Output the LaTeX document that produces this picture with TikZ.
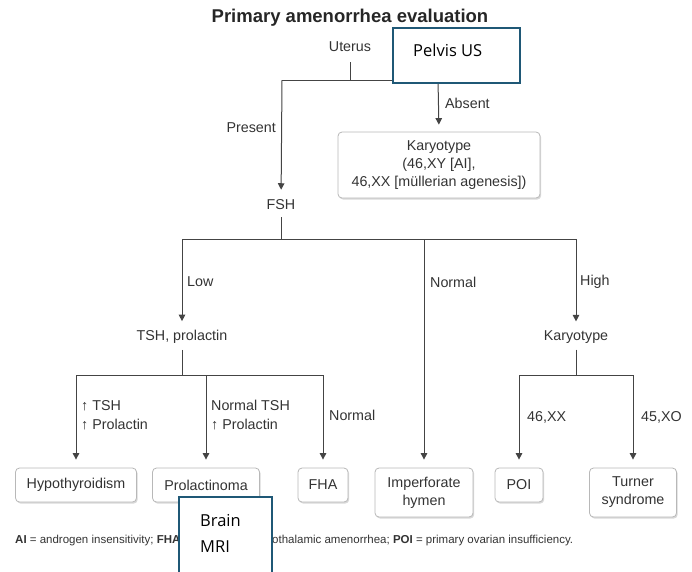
\documentclass[tikz,border=0pt]{standalone}
\usepackage{fontspec}
\setmainfont{Liberation Sans}
\newfontfamily\aptos{Open Sans}
\usetikzlibrary{shadows,arrows.meta}
\definecolor{ln}{HTML}{444444}
\definecolor{tx}{HTML}{333333}
\definecolor{bx}{HTML}{B8B8B8}
\definecolor{callc}{RGB}{31,88,118}
\begin{document}
\begin{tikzpicture}[x=1pt,y=-1pt,
  every node/.style={text=tx, font=\fontsize{14.3}{18}\selectfont, inner sep=0pt},
  lbl/.style={anchor=west},
  res/.style={draw=bx, line width=0.8pt, rounded corners=4pt, fill=white, align=center,
    drop shadow={shadow xshift=1.2pt, shadow yshift=-1.6pt, opacity=0.3}},
  conn/.style={draw=ln, line width=1pt},
  arr/.style={conn, -{Triangle[length=6.5pt,width=6.5pt]}},
  callout/.style={draw=callc, line width=1.8pt, fill=white},
  calltext/.style={font=\aptos\fontsize{16.5}{26}\selectfont, text=black, align=left, anchor=west},
  foottext/.style={anchor=west, font=\fontsize{11.5}{13}\selectfont}
]
\useasboundingbox (0,0) rectangle (692,571);

% title
\node[font=\bfseries\fontsize{18.5}{22}\selectfont, text=black!85] (title) at (350,18) {Primary amenorrhea evaluation};

% level 1
\node (uterus) at (350,47) {Uterus};
\coordinate (j1) at (350,80);
\coordinate (j1l) at (282,80);
\coordinate (j1r) at (438,80);
\node (fsh) at (281,205) {FSH};
\node[res, minimum width=202pt, minimum height=66pt] (kar1) at (439,165)
  {Karyotype\\(46,XY [AI],\\46,XX [müllerian agenesis])};
\draw[conn, shorten <=10pt] (uterus) -- (j1);
\draw[conn] (j1l) -- (j1r);
\draw[arr, shorten >=10pt] (j1l) -- (fsh);
\draw[arr, shorten >=7pt] (j1r) -- (kar1.north);
\node[anchor=east] (lpres) at (276,128) {Present};
\node[lbl] (labs) at (445,103) {Absent};

% level 2
\coordinate (j2) at (281,239);
\coordinate (j2l) at (182,239);
\coordinate (j2m) at (424,239);
\coordinate (j2r) at (576,239);
\node (tsh) at (182,337) {TSH, prolactin};
\node (kar2) at (576,337) {Karyotype};
\node[res, minimum width=98pt, minimum height=49pt] (imp) at (424,492.5) {Imperforate\\hymen};
\draw[conn, shorten <=7pt] (fsh) -- (j2);
\draw[conn] (j2l) -- (j2r);
\draw[arr, shorten >=9pt] (j2l) -- (tsh);
\draw[arr, shorten >=8pt] (j2m) -- (imp.north);
\draw[arr, shorten >=9pt] (j2r) -- (kar2);
\node[lbl] (llow) at (187,282) {Low};
\node[lbl] (lnorm) at (430,282) {Normal};
\node[lbl] (lhigh) at (580,282) {High};

% level 3 left
\coordinate (j3) at (182,375);
\node[res, minimum width=121pt, minimum height=34pt] (hypo) at (76,485) {Hypothyroidism};
\node[res, minimum width=107pt, minimum height=34pt] (prol) at (206,485) {Prolactinoma};
\node[res, minimum width=50pt, minimum height=34pt] (fha) at (323,485) {FHA};
\draw[conn, shorten <=6pt] (tsh) -- (j3);
\draw[conn] (hypo.north |- j3) -- (fha.north |- j3);
\draw[arr, shorten >=8pt] (hypo.north |- j3) -- (hypo.north);
\draw[arr, shorten >=8pt] (prol.north |- j3) -- (prol.north);
\draw[arr, shorten >=8pt] (fha.north |- j3) -- (fha.north);
\node[lbl, align=left, font=\fontsize{14.3}{19}\selectfont] (ltsh) at (81,415) {↑ TSH\\↑ Prolactin};
\node[lbl, align=left, font=\fontsize{14.3}{19}\selectfont] (lnt) at (211,415) {Normal TSH\\↑ Prolactin};
\node[lbl] (lnorm2) at (329,415) {Normal};

% level 3 right
\coordinate (j4) at (576,375);
\node[res, minimum width=48pt, minimum height=34pt] (poi) at (519,485) {POI};
\node[res, minimum width=87pt, minimum height=49pt] (turner) at (633,492.5) {Turner\\syndrome};
\draw[conn, shorten <=6pt] (kar2) -- (j4);
\draw[conn] (poi.north |- j4) -- (turner.north |- j4);
\draw[arr, shorten >=8pt] (poi.north |- j4) -- (poi.north);
\draw[arr, shorten >=8pt] (turner.north |- j4) -- (turner.north);
\node[lbl] (l46) at (527,417) {46,XX};
\node[lbl] (l45) at (641,417) {45,XO};

% footnote (visible parts around the Brain MRI callout)
\node[foottext] (foota) at (15,541) {\textbf{AI} = androgen insensitivity; \textbf{FHA}};
\node[foottext] (footb) at (272,541) {othalamic amenorrhea; \textbf{POI} = primary ovarian insufficiency.};

% callouts
\node[callout, minimum width=127pt, minimum height=55pt] (pelvis) at (456.5,55.5) {};
\node[calltext] (pelvist) at (413,50) {Pelvis US};
\node[callout, anchor=north west, minimum width=93pt, minimum height=90pt] (brain) at (178,496) {};
\node[calltext] (braint) at (200,533) {Brain\\MRI};
\end{tikzpicture}
\end{document}
